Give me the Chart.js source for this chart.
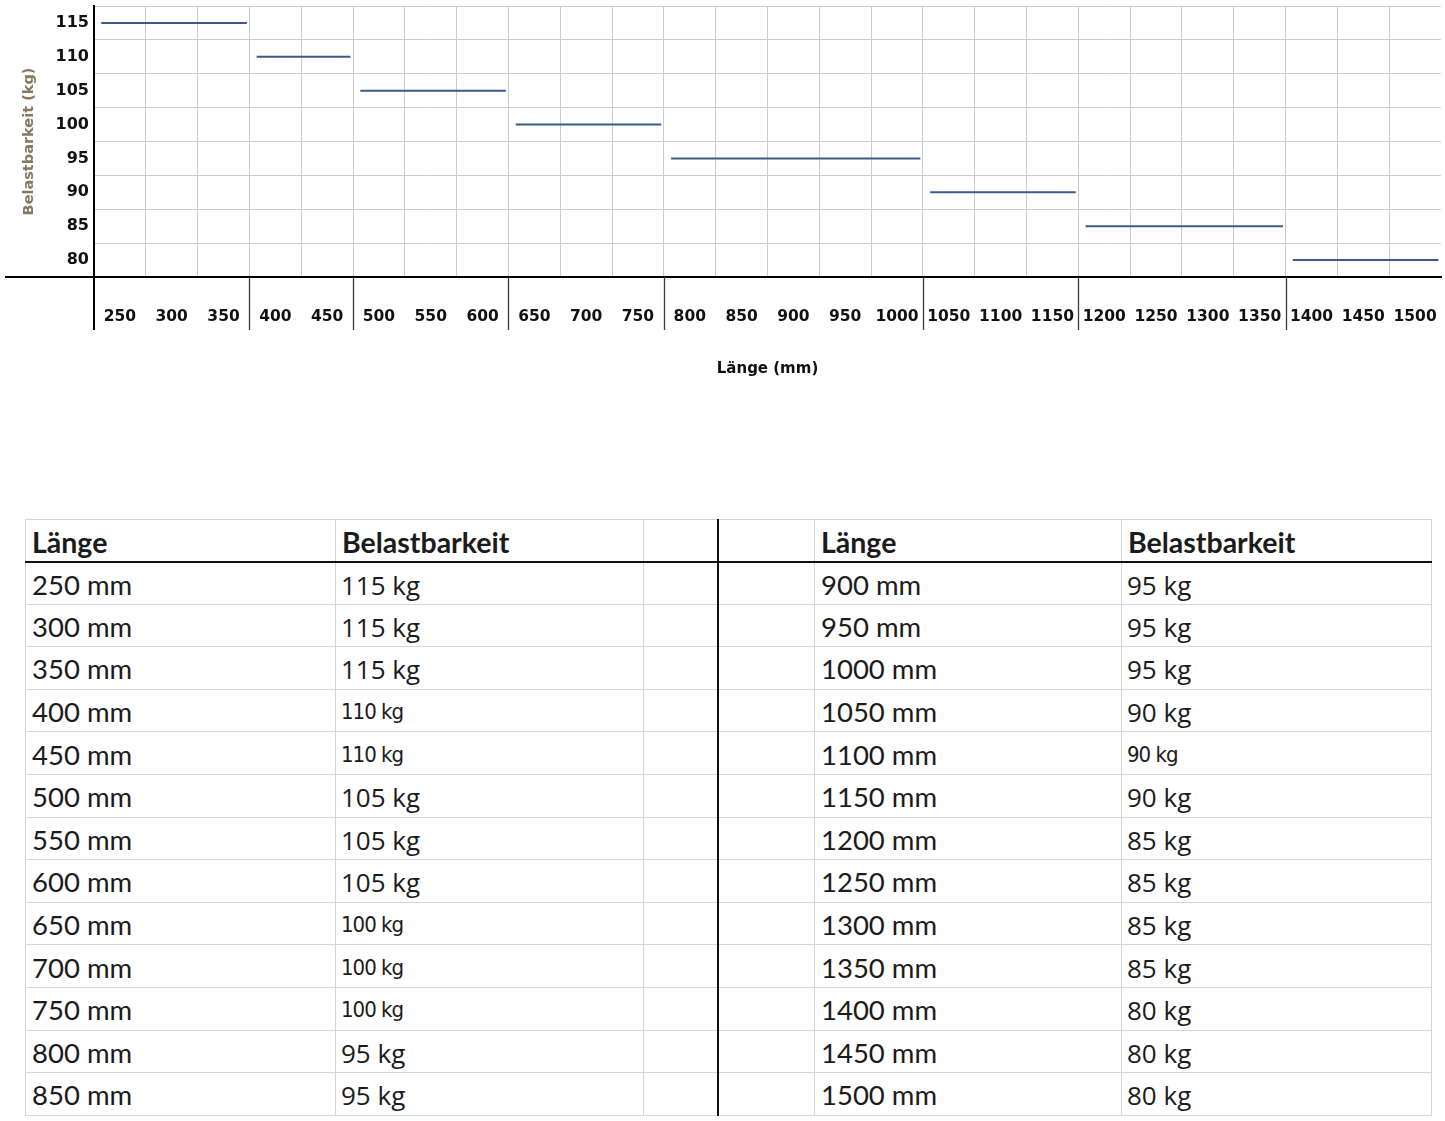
<!DOCTYPE html>
<html>
<head>
<meta charset="utf-8">
<script src="https://cdn.jsdelivr.net/npm/chart.js@4"></script>
<style>
  body { margin: 0; background: #fff; width: 1445px; height: 1121px; position: relative; overflow: hidden; }
  #chartBox { position: absolute; left: 0; top: 0; width: 1445px; height: 385px; }
  table { position: absolute; left: 25px; top: 519px; border-collapse: collapse; table-layout: fixed; width: 1406px; color: #1b1b1b; }
  td, th { border: 1.5px solid #d6d6d6; padding: 3px 0 0 6px; text-align: left; vertical-align: middle; white-space: nowrap; overflow: hidden; line-height: 32px; }
  thead tr { height: 42px; }
  tbody tr { height: 42.6px; }
  th { font-family: Lato, sans-serif; font-weight: bold; font-size: 28.5px; border-bottom: 2px solid #111; }
  td { font-size: 27px; }
  td.len { font-family: Lato, sans-serif; font-size: 27.5px; }
  td.load { font-family: "Open Sans", sans-serif; font-size: 26px; padding-left: 5px; }
  td.load.narrow { font-family: "Liberation Sans Narrow", "DejaVu Sans Condensed", sans-serif; font-size: 22px; letter-spacing: -1px; }
  .split { border-left: 2px solid #111; }
</style>
</head>
<body>
<div id="chartBox"><canvas id="lineChart"></canvas></div>
<table id="loadTable">
  <colgroup>
    <col style="width:310px"><col style="width:308px"><col style="width:74px">
    <col style="width:97px"><col style="width:307px"><col style="width:310px">
  </colgroup>
  <thead>
    <tr><th>Länge</th><th>Belastbarkeit</th><th></th><th class="split"></th><th>Länge</th><th>Belastbarkeit</th></tr>
  </thead>
  <tbody></tbody>
</table>
<script>
// Länge in mm und Belastbarkeit in kg
var lengths = [250, 300, 350, 400, 450, 500, 550, 600, 650, 700, 750, 800, 850,
  900, 950, 1000, 1050, 1100, 1150, 1200, 1250, 1300, 1350, 1400, 1450, 1500];
var loads = [115, 115, 115, 110, 110, 105, 105, 105, 100, 100, 100, 95, 95,
  95, 95, 95, 90, 90, 90, 85, 85, 85, 85, 80, 80, 80];
var yTicks = [80, 85, 90, 95, 100, 105, 110, 115];
// Zeilen, die in der Tabelle in schmaler Schrift stehen
var narrowRows = [400, 450, 650, 700, 750, 1100];

// Tabelle
var tbody = document.querySelector('#loadTable tbody');
var half = Math.ceil(lengths.length / 2);
for (var i = 0; i < half; i++) {
  var tr = document.createElement('tr');
  [i, i + half].forEach(function (k, side) {
    var tdLen = document.createElement('td');
    tdLen.className = 'len';
    tdLen.textContent = lengths[k] + ' mm';
    var tdLoad = document.createElement('td');
    tdLoad.className = 'load' + (narrowRows.indexOf(lengths[k]) >= 0 ? ' narrow' : '');
    tdLoad.textContent = loads[k] + ' kg';
    tr.appendChild(tdLen);
    tr.appendChild(tdLoad);
    if (side === 0) {
      tr.appendChild(document.createElement('td'));
      var sp = document.createElement('td');
      sp.className = 'split';
      tr.appendChild(sp);
    }
  });
  tbody.appendChild(tr);
}

// Stufen: gleiche Belastbarkeit wird zu einer waagerechten Linie zusammengefasst
var step = lengths[1] - lengths[0];
var halfStep = step / 2;
var gapLeft = 7, gapRight = 2.5;
var segments = [];
var boundaries = [];
var start = 0;
for (var j = 1; j <= loads.length; j++) {
  if (j === loads.length || loads[j] !== loads[start]) {
    var x0 = lengths[start] - halfStep;
    var x1 = lengths[j - 1] + halfStep;
    boundaries.push(x0);
    segments.push({ x: x0 + gapLeft, y: loads[start] });
    segments.push({ x: x1 - gapRight, y: loads[start] });
    segments.push({ x: x1, y: null });
    start = j;
  }
}

var xMin = lengths[0] - halfStep;
var xMax = lengths[lengths.length - 1] + halfStep;
var yMin = yTicks[0] - 2.5;
var yMax = yTicks[yTicks.length - 1] + 2.5;

var axisExtras = {
  id: 'axisExtras',
  afterDraw: function (chart) {
    var ctx = chart.ctx, area = chart.chartArea, x = chart.scales.x;
    ctx.save();
    ctx.strokeStyle = '#000';
    ctx.lineWidth = 2;
    ctx.beginPath();
    ctx.moveTo(5, area.bottom);
    ctx.lineTo(area.left, area.bottom);
    ctx.moveTo(area.left, area.bottom);
    ctx.lineTo(area.left, area.bottom + 53);
    ctx.stroke();
    ctx.strokeStyle = '#3a3a3a';
    ctx.lineWidth = 1.3;
    ctx.beginPath();
    boundaries.slice(1).forEach(function (b) {
      var px = Math.round(x.getPixelForValue(b)) + 0.5;
      ctx.moveTo(px, area.bottom);
      ctx.lineTo(px, area.bottom + 53);
    });
    ctx.stroke();
    ctx.restore();
  }
};

document.addEventListener('DOMContentLoaded', function () {
  var ctx = document.getElementById('lineChart').getContext('2d');
  new Chart(ctx, {
    type: 'line',
    data: {
      datasets: [{
        data: segments,
        borderColor: '#3d5b8a',
        borderWidth: 2,
        pointRadius: 0,
        spanGaps: false,
        tension: 0
      }]
    },
    options: {
      responsive: true,
      maintainAspectRatio: false,
      animation: false,
      layout: { padding: { top: 6, right: 4, left: 0, bottom: 0 } },
      plugins: { legend: { display: false }, tooltip: { enabled: false } },
      scales: {
        x: {
          type: 'linear',
          min: xMin,
          max: xMax,
          afterFit: function (s) { s.height = 108; s.paddingLeft = 0; s.paddingRight = 0; },
          ticks: {
            stepSize: halfStep,
            autoSkip: false,
            maxRotation: 0,
            minRotation: 0,
            padding: 31,
            color: '#111',
            font: { family: 'DejaVu Sans', weight: 'bold', size: 15.5 },
            callback: function (v) { return lengths.indexOf(v) >= 0 ? String(v) : ''; }
          },
          grid: {
            drawTicks: false,
            lineWidth: 1,
            color: function (c) {
              var v = c.tick ? c.tick.value : null;
              if (v === null || lengths.indexOf(v) >= 0 || v === xMax) return 'rgba(0,0,0,0)';
              return '#cbcbcb';
            }
          },
          border: { display: true, color: '#000', width: 2 },
          title: {
            display: true,
            text: 'Länge (mm)',
            color: '#111',
            font: { family: 'DejaVu Sans', weight: 'bold', size: 15 },
            padding: { top: 0, bottom: 7 }
          }
        },
        y: {
          type: 'linear',
          min: yMin,
          max: yMax,
          afterFit: function (s) { s.width = 94; s.paddingTop = 0; s.paddingBottom = 0; },
          ticks: {
            stepSize: 2.5,
            autoSkip: false,
            padding: 5,
            color: '#111',
            font: { family: 'DejaVu Sans', weight: 'bold', size: 16 },
            callback: function (v) { return yTicks.indexOf(v) >= 0 ? String(v) : ''; }
          },
          grid: {
            drawTicks: false,
            lineWidth: 1,
            color: function (c) {
              var v = c.tick ? c.tick.value : null;
              if (v === null || yTicks.indexOf(v) >= 0 || v === yMin) return 'rgba(0,0,0,0)';
              return '#cbcbcb';
            }
          },
          border: { display: true, color: '#000', width: 2 },
          title: {
            display: true,
            text: 'Belastbarkeit (kg)',
            color: '#857a60',
            font: { family: 'DejaVu Sans', weight: 'bold', size: 14.5 },
            padding: { top: 21, bottom: 0 }
          }
        }
      }
    },
    plugins: [axisExtras]
  });
});
</script>
</body>
</html>
